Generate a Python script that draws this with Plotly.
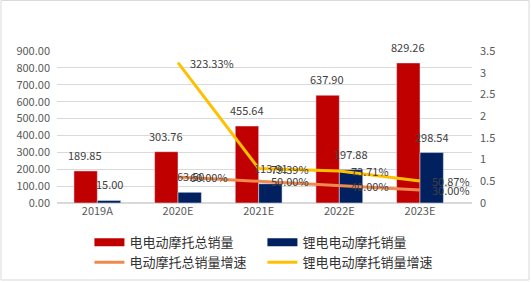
import plotly.graph_objects as go

categories = ["2019A", "2020E", "2021E", "2022E", "2023E"]
total_sales = [189.85, 303.76, 455.64, 637.90, 829.26]
lithium_sales = [15.00, 63.50, 113.91, 197.88, 298.54]
growth_cats = ["2020E", "2021E", "2022E", "2023E"]
total_growth = [0.60, 0.50, 0.40, 0.30]
lithium_growth = [3.2333, 0.7939, 0.7371, 0.5087]

name_total = "电电动摩托总销量"
name_lith = "锂电电动摩托销量"
name_tg = "电动摩托总销量增速"
name_lg = "锂电电动摩托销量增速"

RED = "#C00000"
NAVY = "#002060"
ORANGE = "#EE8A4E"
YELLOW = "#FFC000"
FONT = "Noto Sans CJK SC"
TXT = "#404040"
AX = "#595959"

W, H = 531, 282
L, R, T, B = 57, 59, 51, 79

fig = go.Figure()
fig.add_trace(go.Bar(x=categories, y=total_sales, marker_color=RED, name=name_total,
                     showlegend=False, legendgroup="a"))
fig.add_trace(go.Bar(x=categories, y=lithium_sales, marker_color=NAVY, name=name_lith,
                     showlegend=False, legendgroup="b"))
fig.add_trace(go.Scatter(x=growth_cats, y=total_growth, mode="lines", yaxis="y2",
                         line=dict(color=ORANGE, width=3), name=name_tg, showlegend=False,
                         legendgroup="c"))
fig.add_trace(go.Scatter(x=growth_cats, y=lithium_growth, mode="lines", yaxis="y2",
                         line=dict(color=YELLOW, width=3), name=name_lg, showlegend=False,
                         legendgroup="d"))

# legend proxies
for nm, col, wd, grp in [(name_total, RED, 8, "a"), (name_lith, NAVY, 8, "b"),
                         (name_tg, ORANGE, 3, "c"), (name_lg, YELLOW, 3, "d")]:
    fig.add_trace(go.Scatter(x=[None], y=[None], mode="lines", name=nm,
                             line=dict(color=col, width=wd), legendgroup=grp))

ann = []
# bar labels
for i, c in enumerate(categories):
    ann.append(dict(x=c, y=total_sales[i], xref="x", yref="y", text=f"{total_sales[i]:.2f}",
                    showarrow=False, yanchor="bottom", yshift=6, xshift=-12,
                    font=dict(family=FONT, size=11, color=TXT)))
    ann.append(dict(x=c, y=lithium_sales[i], xref="x", yref="y", text=f"{lithium_sales[i]:.2f}",
                    showarrow=False, yanchor="bottom", yshift=6, xshift=12,
                    font=dict(family=FONT, size=11, color=TXT)))
for i, c in enumerate(growth_cats):
    ann.append(dict(x=c, y=total_growth[i], xref="x", yref="y2", text=f"{total_growth[i]*100:.2f}%",
                    showarrow=False, xanchor="left", xshift=10,
                    font=dict(family=FONT, size=11, color=TXT)))
    ann.append(dict(x=c, y=lithium_growth[i], xref="x", yref="y2", text=f"{lithium_growth[i]*100:.2f}%",
                    showarrow=False, xanchor="left", xshift=10,
                    font=dict(family=FONT, size=11, color=TXT)))

pw = W - L - R
ph = H - T - B
shapes = [dict(type="rect", xref="paper", yref="paper",
               x0=(1 - L) / pw, x1=(529 - L) / pw,
               y0=(H - B - 280) / ph, y1=(H - B - 0.5) / ph,
               line=dict(color="#D9D9D9", width=1), fillcolor="rgba(0,0,0,0)", layer="below")]

fig.update_layout(
    width=W, height=H,
    margin=dict(l=L, r=R, t=T, b=B, autoexpand=False),
    paper_bgcolor="white", plot_bgcolor="white",
    barmode="group", bargap=0.42, bargroupgap=0,
    font=dict(family=FONT, size=11, color=AX),
    xaxis=dict(categoryorder="array", categoryarray=categories, showgrid=False,
               showline=False, ticks="", tickfont=dict(size=11, color=AX)),
    yaxis=dict(range=[0, 900], dtick=100, tickformat=".2f", showgrid=True,
               gridcolor="#D9D9D9", gridwidth=1, zeroline=True, zerolinecolor="#D9D9D9",
               ticklabelstandoff=6, tickfont=dict(size=11, color=AX)),
    yaxis2=dict(range=[0, 3.5], dtick=0.5, overlaying="y", side="right", showgrid=False,
                zeroline=False, ticklabelstandoff=7, tickfont=dict(size=11, color=AX)),
    legend=dict(orientation="h", x=0.495, xanchor="center", y=-0.16, yanchor="top",
                entrywidth=128, entrywidthmode="pixels", traceorder="normal",
                font=dict(family=FONT, size=13, color="#333333"), itemwidth=30),
    annotations=ann,
    shapes=shapes,
)

fig.write_html("out.html")
